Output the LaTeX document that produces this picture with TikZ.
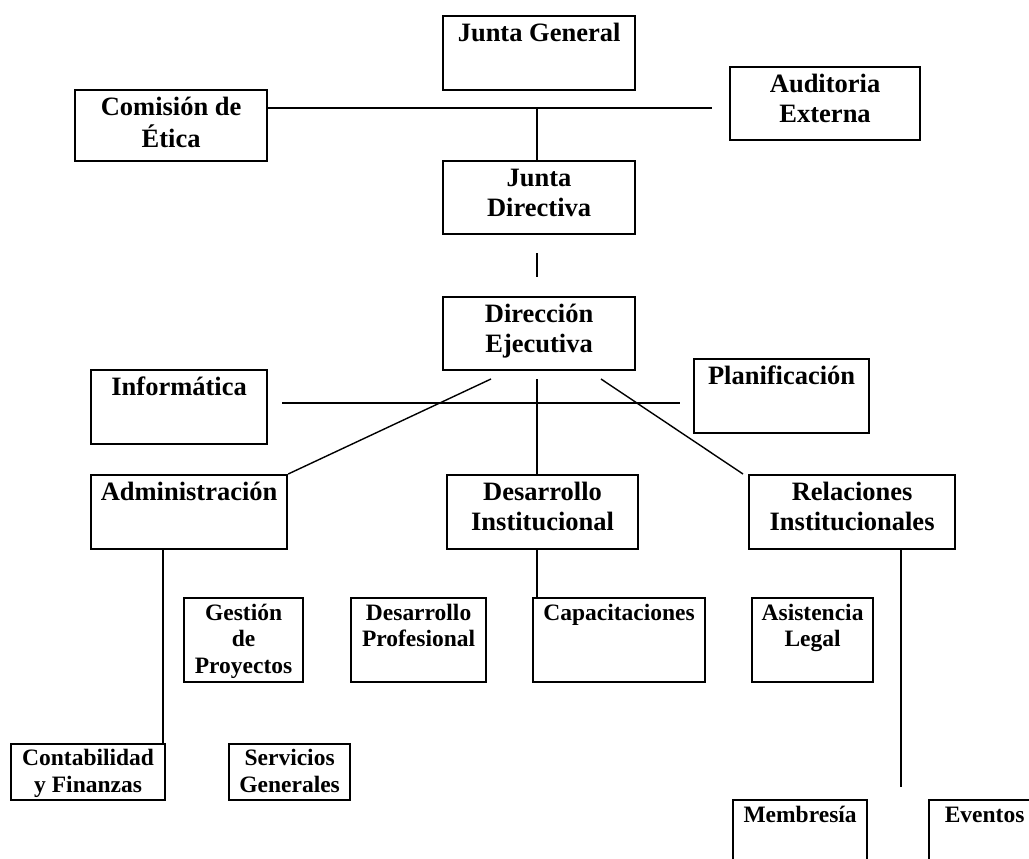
\documentclass[tikz,border=0pt]{standalone}
\usepackage{fontspec}
\setmainfont{Liberation Serif}
\begin{document}
\begin{tikzpicture}[x=1pt,y=-1pt,
  box/.style={draw, line width=2.2pt, inner sep=0pt, anchor=north west},
  big/.style={inner sep=0pt, anchor=north, align=center, font=\bfseries\fontsize{26.5}{30}\selectfont},
  small/.style={inner sep=0pt, anchor=north, align=center, font=\bfseries\fontsize{23.5}{26.7}\selectfont},
  conn/.style={line width=1.4pt}]
\clip (0,0) rectangle (1029,859);
\fill[white] (0,0) rectangle (1029,859);
% boxes (large text)
\node[box, minimum width=192pt, minimum height=74pt] (JG) at (442,15) {};
\node[big] (JGt) at ([yshift=-5pt]JG.north) {\strut Junta General};
\node[box, minimum width=192pt, minimum height=71pt] (CE) at (74,89) {};
\node[big] (CEt) at ([yshift=-5pt]CE.north) {\strut Comisión de\\Ética};
\node[box, minimum width=190pt, minimum height=73pt] (AE) at (729,66) {};
\node[big] (AEt) at ([yshift=-5pt]AE.north) {\strut Auditoria\\Externa};
\node[box, minimum width=192pt, minimum height=73pt] (JD) at (442,160) {};
\node[big] (JDt) at ([yshift=-5pt]JD.north) {\strut Junta\\Directiva};
\node[box, minimum width=192pt, minimum height=73pt] (DE) at (442,296) {};
\node[big] (DEt) at ([yshift=-5pt]DE.north) {\strut Dirección\\Ejecutiva};
\node[box, minimum width=176pt, minimum height=74pt] (INF) at (90,369) {};
\node[big] (INFt) at ([yshift=-5pt]INF.north) {\strut Informática};
\node[box, minimum width=175pt, minimum height=74pt] (PL) at (693,358) {};
\node[big] (PLt) at ([yshift=-5pt]PL.north) {\strut Planificación};
\node[box, minimum width=196pt, minimum height=74pt] (ADM) at (90,474) {};
\node[big] (ADMt) at ([yshift=-5pt]ADM.north) {\strut Administración};
\node[box, minimum width=191pt, minimum height=74pt] (DI) at (446,474) {};
\node[big] (DIt) at ([yshift=-5pt]DI.north) {\strut Desarrollo\\Institucional};
\node[box, minimum width=206pt, minimum height=74pt] (RI) at (748,474) {};
\node[big] (RIt) at ([yshift=-5pt]RI.north) {\strut Relaciones\\Institucionales};
% boxes (small text)
\node[box, minimum width=119pt, minimum height=84pt] (GP) at (183,597) {};
\node[small] (GPt) at ([yshift=-4.3pt]GP.north) {\strut Gestión\\de\\Proyectos};
\node[box, minimum width=135pt, minimum height=84pt] (DP) at (350,597) {};
\node[small] (DPt) at ([yshift=-4.3pt]DP.north) {\strut Desarrollo\\Profesional};
\node[box, minimum width=172pt, minimum height=84pt] (CAP) at (532,597) {};
\node[small] (CAPt) at ([yshift=-4.3pt]CAP.north) {\strut Capacitaciones};
\node[box, minimum width=121pt, minimum height=84pt] (AL) at (751,597) {};
\node[small] (ALt) at ([yshift=-4.3pt]AL.north) {\strut Asistencia\\Legal};
\node[box, minimum width=154pt, minimum height=56pt] (CF) at (10,743) {};
\node[small] (CFt) at ([yshift=-3.5pt]CF.north) {\strut Contabilidad\\y Finanzas};
\node[box, minimum width=121pt, minimum height=56pt] (SG) at (228,743) {};
\node[small] (SGt) at ([yshift=-3.5pt]SG.north) {\strut Servicios\\Generales};
\node[box, minimum width=134pt, minimum height=76pt] (MEM) at (732,799) {};
\node[small] (MEMt) at ([yshift=-4.3pt]MEM.north) {\strut Membresía};
\node[box, minimum width=111pt, minimum height=76pt] (EV) at (928,799) {};
\node[small] (EVt) at ([yshift=-4.3pt]EV.north) {\strut Eventos};
% connector end points
\coordinate (h1e) at (712,108);
\coordinate (j1) at (537,108);
\coordinate (s1) at (537,253);
\coordinate (s2) at (537,277);
\coordinate (h2a) at (282,403);
\coordinate (h2b) at (680,403);
\coordinate (d1) at (491,379);
\coordinate (v1) at (537,379);
\coordinate (d2) at (601,379);
\coordinate (a1) at (163,548);
\coordinate (v2) at (537,548);
\coordinate (r1) at (901,548);
\coordinate (r2) at (901,787);
% connectors
\draw[conn] (CE.east |- h1e) -- (h1e);
\draw[conn] (j1) -- (j1 |- JD.north);
\draw[conn] (s1) -- (s2);
\draw[conn] (h2a) -- (h2b);
\draw[conn] (d1) -- (ADM.north east);
\draw[conn] (v1) -- (v1 |- DI.north);
\draw[conn] (d2) -- ([xshift=-5pt]RI.north west);
\draw[conn] (a1) -- (a1 |- CF.north);
\draw[conn] (v2) -- (v2 |- CAP.north);
\draw[conn] (r1) -- (r2);
\end{tikzpicture}
\end{document}
